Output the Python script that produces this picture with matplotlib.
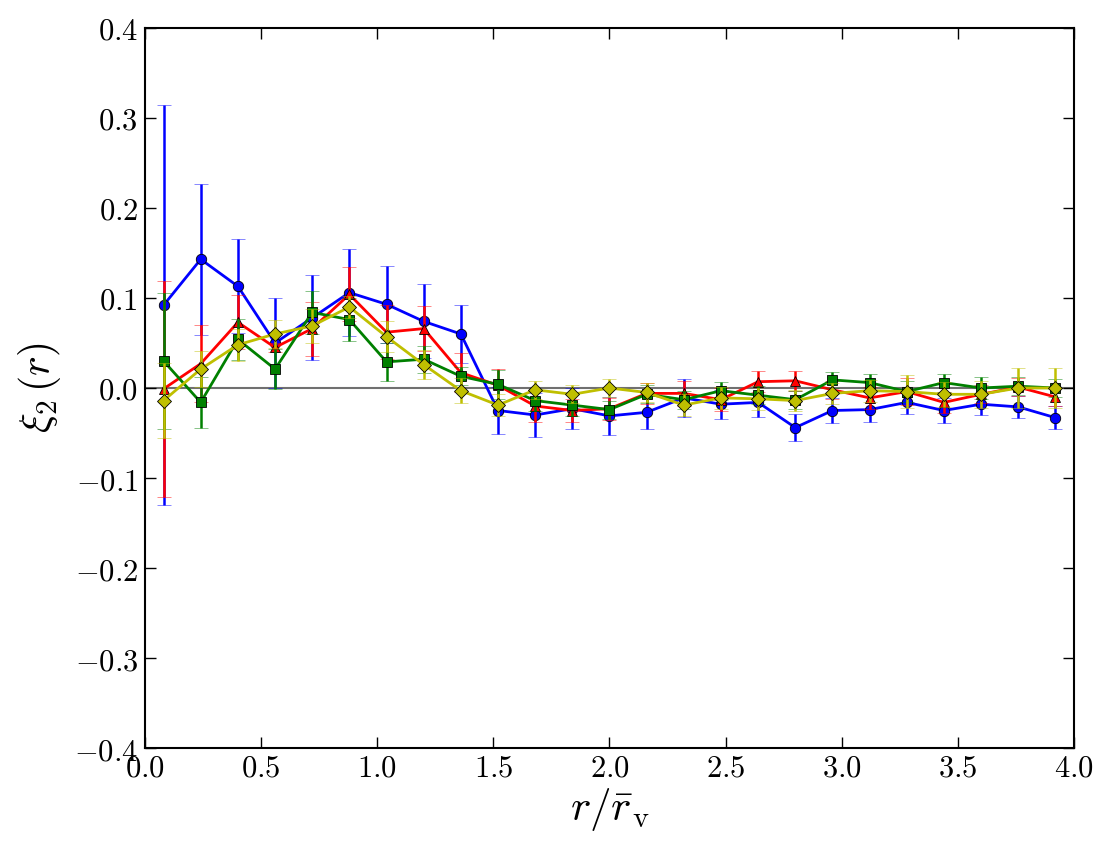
import numpy as np
import matplotlib
matplotlib.use("Agg")
import matplotlib.pyplot as plt
from matplotlib.ticker import FuncFormatter

plt.rcParams['mathtext.fontset'] = 'cm'
plt.rcParams['font.family'] = 'serif'
plt.rcParams['font.serif'] = ['DejaVu Serif']

r = [0.08, 0.24, 0.40, 0.56, 0.72, 0.88, 1.04, 1.20, 1.36, 1.52, 1.68, 1.84, 2.00,
     2.16, 2.32, 2.48, 2.64, 2.80, 2.96, 3.12, 3.28, 3.44, 3.60, 3.76, 3.92]

blue = [0.092, 0.143, 0.113, 0.050, 0.078, 0.106, 0.093, 0.074, 0.060, -0.025, -0.030, -0.023, -0.031,
        -0.027, -0.011, -0.018, -0.016, -0.044, -0.025, -0.024, -0.016, -0.025, -0.018, -0.021, -0.033]
blue_err = [0.222, 0.084, 0.052, 0.050, 0.047, 0.048, 0.043, 0.041, 0.032, 0.026, 0.024, 0.023, 0.021,
            0.019, 0.021, 0.016, 0.016, 0.015, 0.014, 0.014, 0.013, 0.014, 0.012, 0.012, 0.013]

red = [-0.001, 0.027, 0.073, 0.045, 0.066, 0.104, 0.062, 0.066, 0.017, 0.003, -0.020, -0.025, -0.023,
       -0.006, -0.006, -0.013, 0.007, 0.008, -0.002, -0.011, -0.004, -0.016, -0.007, 0.001, -0.010]
red_err = [0.120, 0.043, 0.030, 0.005, 0.030, 0.030, 0.030, 0.025, 0.022, 0.018, 0.018, 0.013, 0.012,
           0.012, 0.014, 0.013, 0.012, 0.011, 0.010, 0.012, 0.015, 0.012, 0.010, 0.010, 0.010]

green = [0.030, -0.016, 0.054, 0.021, 0.084, 0.076, 0.029, 0.032, 0.013, 0.004, -0.014, -0.019, -0.024,
         -0.007, -0.013, -0.003, -0.008, -0.013, 0.009, 0.006, -0.004, 0.006, 0.000, 0.002, 0.000]
green_err = [0.075, 0.028, 0.023, 0.022, 0.024, 0.024, 0.021, 0.015, 0.010, 0.016, 0.012, 0.012, 0.010,
             0.010, 0.010, 0.010, 0.010, 0.010, 0.009, 0.010, 0.012, 0.010, 0.012, 0.010, 0.010]

yellow = [-0.014, 0.021, 0.048, 0.060, 0.069, 0.090, 0.057, 0.026, -0.003, -0.019, -0.002, -0.007, 0.000,
          -0.005, -0.019, -0.011, -0.012, -0.014, -0.006, -0.003, -0.004, -0.007, -0.007, 0.000, 0.000]
yellow_err = [0.042, 0.020, 0.018, 0.016, 0.019, 0.012, 0.017, 0.016, 0.014, 0.012, 0.010, 0.010, 0.010,
              0.010, 0.012, 0.012, 0.012, 0.012, 0.012, 0.012, 0.018, 0.014, 0.015, 0.022, 0.022]

series = [
    (blue, blue_err, '#0000ff', 'o'),
    (red, red_err, '#ff0000', '^'),
    (green, green_err, '#008000', 's'),
    (yellow, yellow_err, '#bfbf00', 'D'),
]

fig = plt.figure(figsize=(11.11, 8.55), dpi=100)
fig.patch.set_facecolor('white')
ax = fig.add_axes([0.1305, 0.1251, 0.8362, 0.8422])

ax.axhline(0.0, color='#707070', lw=1.5, zorder=1)

for i, (vals, errs, col, mk) in enumerate(series):
    cont = ax.errorbar(r, vals, yerr=errs, color=col, marker=mk, ms=7.5 if mk != 'D' else 7,
                       mec='black', mew=0.6, lw=2.0, elinewidth=1.8, capsize=5, capthick=1.3,
                       zorder=2 + i)
    for cap in cont[1]:
        cap.set_alpha(0.55)

ax.set_xlim(0, 4)
ax.set_ylim(-0.4, 0.4)
ax.set_xticks(np.arange(0, 4.01, 0.5))
ax.set_yticks(np.arange(-0.4, 0.401, 0.1))

def fmt(v, pos):
    s = f"{v:.1f}"
    if s == "-0.0":
        s = "0.0"
    return "$" + s + "$"

ax.xaxis.set_major_formatter(FuncFormatter(fmt))
ax.yaxis.set_major_formatter(FuncFormatter(fmt))

ax.tick_params(direction='in', length=8, width=1, top=True, right=True, labelsize=22)
ax.tick_params(axis='x', pad=3)
ax.tick_params(axis='y', pad=5)
for sp in ax.spines.values():
    sp.set_linewidth(1.5)

ax.set_xlabel(r'$r/\bar{r}_{\rm v}$', fontsize=31, labelpad=2)
ax.set_ylabel(r'$\xi_2\,(r)$', fontsize=30, labelpad=8)

fig.savefig('out.png', dpi=100, facecolor='white')
